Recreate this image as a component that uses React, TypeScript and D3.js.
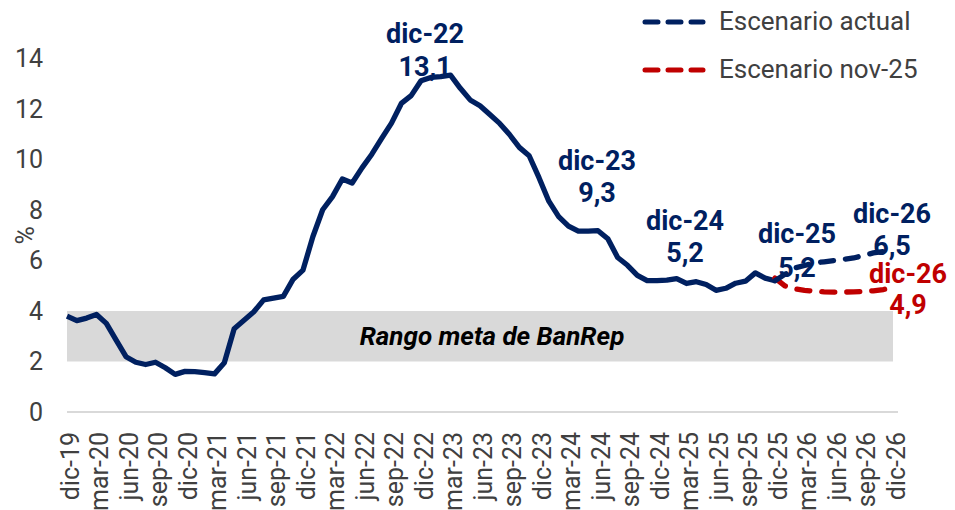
import React from 'react'
import * as d3 from 'd3'

// monthly categories, dic-19 .. dic-26
const monthNames = ['ene', 'feb', 'mar', 'abr', 'may', 'jun', 'jul', 'ago', 'sep', 'oct', 'nov', 'dic']
const months: string[] = ['dic-19']
for (let yr = 20; yr <= 26; yr++) monthNames.forEach(m => months.push(`${m}-${yr}`))

const tickLabels = [
  'dic-19', 'mar-20', 'jun-20', 'sep-20', 'dic-20', 'mar-21', 'jun-21', 'sep-21', 'dic-21',
  'mar-22', 'jun-22', 'sep-22', 'dic-22', 'mar-23', 'jun-23', 'sep-23', 'dic-23',
  'mar-24', 'jun-24', 'sep-24', 'dic-24', 'mar-25', 'jun-25', 'sep-25', 'dic-25',
  'mar-26', 'jun-26', 'sep-26', 'dic-26',
]

// observed inflation dic-19 .. dic-25
const actual = [
  3.8,
  3.62, 3.72, 3.86, 3.51, 2.85, 2.19, 1.97, 1.88, 1.97, 1.75, 1.49, 1.61,
  1.6, 1.56, 1.51, 1.95, 3.3, 3.63, 3.97, 4.44, 4.51, 4.58, 5.26, 5.62,
  6.94, 8.01, 8.53, 9.23, 9.07, 9.67, 10.21, 10.84, 11.44, 12.22, 12.53, 13.12,
  13.25, 13.28, 13.34, 12.82, 12.36, 12.13, 11.78, 11.43, 10.99, 10.48, 10.15, 9.28,
  8.35, 7.74, 7.36, 7.16, 7.16, 7.18, 6.86, 6.12, 5.81, 5.41, 5.2, 5.2,
  5.22, 5.28, 5.09, 5.16, 5.05, 4.82, 4.9, 5.1, 5.18, 5.51, 5.3, 5.2,
]
// scenarios dic-25 .. dic-26
const scenActual = [5.2, 5.45, 5.7, 5.8, 5.9, 5.95, 6.0, 6.05, 6.1, 6.2, 6.3, 6.35, 6.5]
const scenNov25 = [5.3, 5.0, 4.88, 4.82, 4.78, 4.76, 4.75, 4.75, 4.76, 4.77, 4.8, 4.85, 4.93]

const yTicks = [0, 2, 4, 6, 8, 10, 12, 14]
const band = [2, 4]

const NAVY = '#002060'
const RED = '#C00000'
const GREY_TXT = '#404040'
const FONT = 'Roboto, sans-serif'

const annotations = [
  { month: 'dic-22', value: 13.12, lines: ['dic-22', '13,1'], dx: 4, dy: [-38, -5], color: NAVY },
  { month: 'dic-23', value: 9.28, lines: ['dic-23', '9,3'], dx: 58, dy: [-8, 24], color: NAVY },
  { month: 'dic-24', value: 5.2, lines: ['dic-24', '5,2'], dx: 28, dy: [-51, -19], color: NAVY },
  { month: 'dic-25', value: 5.2, lines: ['dic-25', '5,2'], dx: 22, dy: [-38, -4], color: NAVY },
  { month: 'dic-26', value: 6.5, lines: ['dic-26', '6,5'], dx: -1, dy: [-25, 7], color: NAVY },
  { month: 'dic-26', value: 4.93, lines: ['dic-26', '4,9'], dx: 15, dy: [-5, 26], color: RED },
]

export default function App() {
  const W = 955, H = 510
  const x = d3.scalePoint<string>().domain(months).range([67, 893])
  const y = d3.scaleLinear().domain([0, 14]).range([412, 58.5])

  const line = d3.line<number>()
    .x((_, i) => x(months[i])!)
    .y(d => y(d))
  const scenLine = d3.line<number>()
    .x((_, i) => x(months[actual.length - 1 + i])!)
    .y(d => y(d))

  return (
    <svg width={W} height={H} style={{ position: 'absolute', left: 0, top: 0, background: '#fff' }} fontFamily={FONT}>
      <rect x={67} width={893 - 67} y={y(band[1])} height={y(band[0]) - y(band[1])} fill="#d9d9d9" />
      <line x1={67} x2={898} y1={y(0)} y2={y(0)} stroke="#d9d9d9" strokeWidth={2} />
      <text x={492} y={(y(band[0]) + y(band[1])) / 2} dy="0.35em" textAnchor="middle"
        fontSize={26} fontWeight="bold" fontStyle="italic" fill="#000">Rango meta de BanRep</text>

      {yTicks.map(t => (
        <text key={t} x={43} y={y(t)} dy="0.35em" textAnchor="end" fontSize={25} fill={GREY_TXT}>{t}</text>
      ))}
      <text transform={`translate(25, ${y(7)}) rotate(-90)`} dy="0.35em" textAnchor="middle" fontSize={25} fill={GREY_TXT}>%</text>

      {tickLabels.map(l => (
        <text key={l} transform={`translate(${x(l)! + 3}, 432) rotate(-90)`} dy="0.35em" textAnchor="end"
          fontSize={25} fill={GREY_TXT}>{l}</text>
      ))}

      {annotations.map((a, i) => (
        <text key={i} textAnchor="middle" fontSize={27} fontWeight="bold" fill={a.color}>
          {a.lines.map((t, j) => (
            <tspan key={j} x={x(a.month)! + a.dx} y={y(a.value) + a.dy[j]}>{t}</tspan>
          ))}
        </text>
      ))}

      <path d={line(actual)!} fill="none" stroke={NAVY} strokeWidth={5.3} strokeLinejoin="round" />
      <path d={scenLine(scenNov25)!} fill="none" stroke={RED} strokeWidth={5.3} strokeDasharray="13,12" strokeLinecap="round" />
      <path d={scenLine(scenActual)!} fill="none" stroke={NAVY} strokeWidth={5.3} strokeDasharray="13,12" strokeLinecap="round" />

      <g fontSize={26} fill={GREY_TXT}>
        <line x1={645} x2={703} y1={22} y2={22} stroke={NAVY} strokeWidth={5} strokeDasharray="13,10" strokeLinecap="round" />
        <text x={719} y={21} dy="0.35em">Escenario actual</text>
        <line x1={645} x2={703} y1={70} y2={70} stroke={RED} strokeWidth={5} strokeDasharray="13,10" strokeLinecap="round" />
        <text x={719} y={69} dy="0.35em">Escenario nov-25</text>
      </g>
    </svg>
  )
}
